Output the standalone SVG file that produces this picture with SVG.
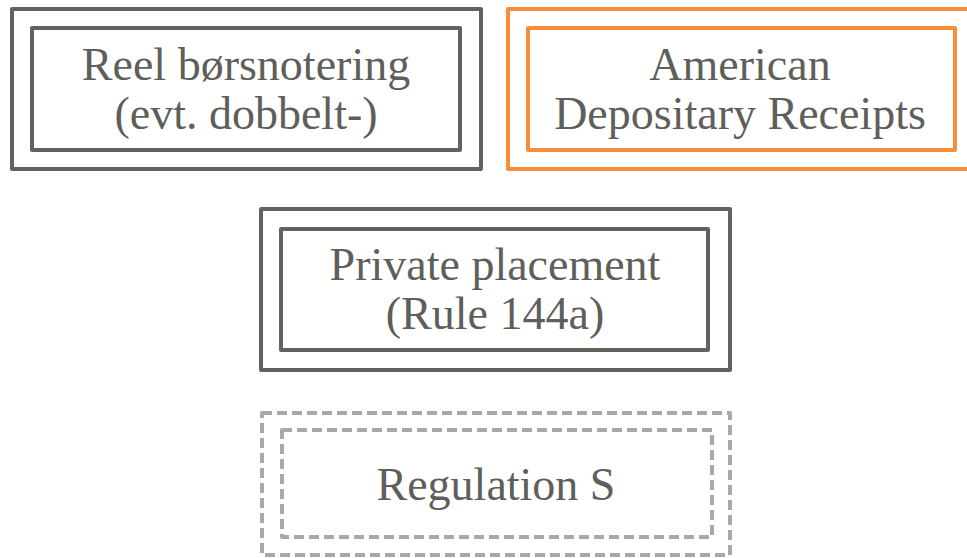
<svg xmlns="http://www.w3.org/2000/svg" width="967" height="558" viewBox="0 0 967 558">
  <style>
    .frame { fill: none; stroke-width: 4; stroke-linejoin: round; }
    .gray { stroke: #63635e; }
    .orange { stroke: #f98e3a; }
    .dashed { stroke: #a8a8a8; stroke-dasharray: 10 5; }
    .label { font-family: "Liberation Serif", "DejaVu Serif", serif; font-size: 46px; fill: #5e5f5a; text-anchor: middle; }
  </style>
  <rect width="967" height="558" fill="#ffffff"/>
  <g id="node-reel">
    <rect class="frame gray" x="12" y="9" width="469" height="160"/>
    <rect class="frame gray" x="32" y="28" width="428" height="122"/>
    <text class="label" x="246" y="80">Reel børsnotering</text>
    <text class="label" x="246" y="129">(evt. dobbelt-)</text>
  </g>
  <g id="node-adr">
    <rect class="frame orange" x="508" y="9" width="470" height="160"/>
    <rect class="frame orange" x="528" y="28" width="427" height="122"/>
    <text class="label" x="740" y="80">American</text>
    <text class="label" x="740" y="129">Depositary Receipts</text>
  </g>
  <g id="node-private">
    <rect class="frame gray" x="261" y="209" width="469" height="161"/>
    <rect class="frame gray" x="281" y="229" width="427" height="121"/>
    <text class="label" x="495" y="280">Private placement</text>
    <text class="label" x="495" y="329">(Rule 144a)</text>
  </g>
  <g id="node-regs">
    <rect class="frame dashed" x="262" y="413" width="468" height="142"/>
    <rect class="frame dashed" x="282" y="430" width="430" height="107"/>
    <text class="label" x="496" y="500">Regulation S</text>
  </g>
  <g id="connectors"></g>
</svg>
